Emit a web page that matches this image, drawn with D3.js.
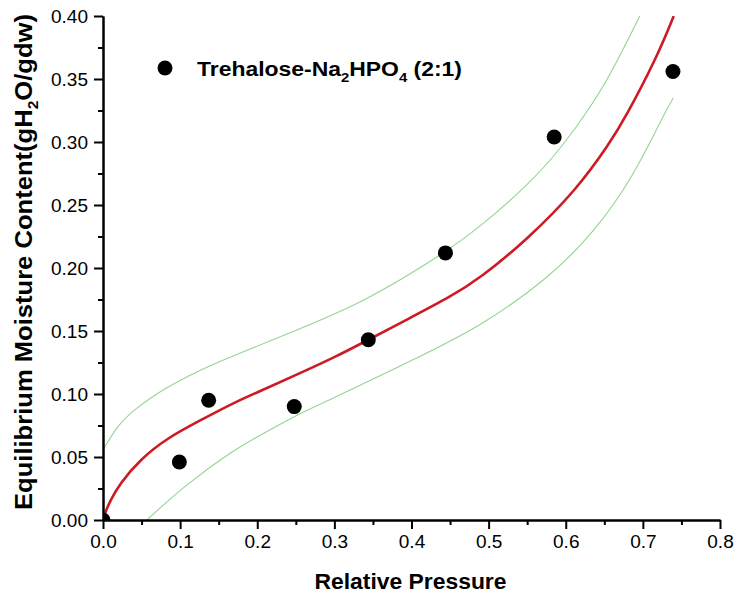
<!DOCTYPE html>
<html>
<head>
<meta charset="utf-8">
<script src="https://cdn.jsdelivr.net/npm/d3@7"></script>
<style>
    body { margin: 0; background: #fff; }
    text { font-family: Arial, "Liberation Sans", sans-serif; fill: #000; }
</style>
</head>
<body>
<svg id="chart"></svg>
<script>
// measured points
const pressure = [0, 0.099, 0.137, 0.248, 0.344, 0.444, 0.585, 0.739];
const moisture = [0, 0.046, 0.095, 0.090, 0.143, 0.212, 0.304, 0.356];

// fitted curve
const fitX = [0, 0.004, 0.01, 0.022, 0.048, 0.083, 0.126, 0.169, 0.212, 0.255, 0.30, 0.344, 0.40, 0.45, 0.489, 0.549, 0.614, 0.657, 0.677, 0.718, 0.74];
const fitY = [0, 0.008, 0.016, 0.029, 0.048, 0.065, 0.079, 0.093, 0.1045, 0.1164, 0.129, 0.143, 0.161, 0.177, 0.192, 0.222, 0.262, 0.299, 0.319, 0.367, 0.40];

// confidence band
const upperX = [0, 0.0177, 0.039, 0.083, 0.126, 0.156, 0.2295, 0.3375, 0.4456, 0.489, 0.549, 0.5926, 0.636, 0.666, 0.696];
const upperY = [0.0556, 0.074, 0.0873, 0.1058, 0.119, 0.127, 0.1455, 0.172, 0.213, 0.2328, 0.2646, 0.2937, 0.3307, 0.363, 0.40];
const lowerX = [0.057, 0.104, 0.169, 0.212, 0.255, 0.294, 0.402, 0.489, 0.575, 0.636, 0.6876, 0.7265, 0.7395];
const lowerY = [0, 0.0265, 0.0556, 0.070, 0.0847, 0.0952, 0.127, 0.1534, 0.1905, 0.2275, 0.2725, 0.321, 0.335];

const xTicks = [0, 0.1, 0.2, 0.3, 0.4, 0.5, 0.6, 0.7, 0.8];
const yTicks = [0, 0.05, 0.10, 0.15, 0.20, 0.25, 0.30, 0.35, 0.40];
const xMinor = [0.05, 0.15, 0.25, 0.35, 0.45, 0.55, 0.65, 0.75];
const yMinor = [0.025, 0.075, 0.125, 0.175, 0.225, 0.275, 0.325, 0.375];

const margin = { top: 16, right: 18, bottom: 77, left: 103 };
const W = 738, H = 597;
const width = W - margin.left - margin.right;
const height = H - margin.top - margin.bottom;

const svg = d3.select("#chart").attr("width", W).attr("height", H);

const xScale = d3.scaleLinear().domain([0, 0.8]).range([0, width]);
const yScale = d3.scaleLinear().domain([0, 0.40]).range([height, 0]);

svg.append("defs").append("clipPath").attr("id", "plot")
    .append("rect").attr("width", width).attr("height", height);

const g = svg.append("g").attr("transform", `translate(${margin.left},${margin.top})`);
const plot = g.append("g").attr("clip-path", "url(#plot)");

const zip = (xs, ys) => xs.map((x, i) => [x, ys[i]]);
const line = d3.line()
    .x(d => xScale(d[0]))
    .y(d => yScale(d[1]))
    .curve(d3.curveBasis);

plot.append("path").datum(zip(upperX, upperY))
    .attr("d", line).attr("fill", "none").attr("stroke", "#93d593").attr("stroke-width", 1.1);
plot.append("path").datum(zip(lowerX, lowerY))
    .attr("d", line).attr("fill", "none").attr("stroke", "#93d593").attr("stroke-width", 1.1);
plot.append("path").datum(zip(fitX, fitY))
    .attr("d", line).attr("fill", "none").attr("stroke", "#cc1b22").attr("stroke-width", 2.6);

plot.selectAll("circle")
    .data(zip(pressure, moisture))
    .join("circle")
    .attr("cx", d => xScale(d[0]))
    .attr("cy", d => yScale(d[1]))
    .attr("r", 7.5)
    .attr("fill", "#000");

// axes: major ticks with labels, minor ticks without
const styleAxis = sel => {
    sel.select(".domain").attr("stroke-width", 2);
    sel.selectAll(".tick line").attr("stroke-width", 2);
    sel.selectAll(".tick text").attr("font-size", 19).attr("font-family", "Arial, 'Liberation Sans', sans-serif");
};

g.append("g").attr("transform", `translate(0,${height})`)
    .call(d3.axisBottom(xScale).tickValues(xMinor).tickSize(5).tickSizeOuter(0).tickFormat(""))
    .call(styleAxis);
g.append("g").attr("transform", `translate(0,${height})`)
    .call(d3.axisBottom(xScale).tickValues(xTicks).tickSize(9).tickSizeOuter(0).tickPadding(6).tickFormat(d3.format(".1f")))
    .call(styleAxis);

g.append("g")
    .call(d3.axisLeft(yScale).tickValues(yMinor).tickSize(5).tickSizeOuter(0).tickFormat(""))
    .call(styleAxis);
g.append("g")
    .call(d3.axisLeft(yScale).tickValues(yTicks).tickSize(9).tickSizeOuter(0).tickPadding(6).tickFormat(d3.format(".2f")))
    .call(styleAxis);

// axis titles
svg.append("text")
    .attr("x", margin.left + xScale(0.4) - 1)
    .attr("y", 589)
    .attr("text-anchor", "middle")
    .attr("font-size", 22)
    .attr("font-weight", "bold")
    .attr("textLength", 192)
    .attr("lengthAdjust", "spacingAndGlyphs")
    .text("Relative Pressure");

const yTitle = svg.append("text")
    .attr("transform", "translate(32,262) rotate(-90)")
    .attr("text-anchor", "middle")
    .attr("font-size", 23)
    .attr("font-weight", "bold")
    .attr("textLength", 496)
    .attr("lengthAdjust", "spacingAndGlyphs");
yTitle.append("tspan").text("Equilibrium Moisture Content(gH");
yTitle.append("tspan").attr("font-size", 14).attr("dy", 6).text("2");
yTitle.append("tspan").attr("dy", -6).text("O/gdw)");

// legend
svg.append("circle").attr("cx", 165).attr("cy", 68).attr("r", 7.5).attr("fill", "#000");
const legend = svg.append("text")
    .attr("x", 197).attr("y", 76)
    .attr("font-size", 20)
    .attr("font-weight", "bold")
    .attr("textLength", 265)
    .attr("lengthAdjust", "spacingAndGlyphs");
legend.append("tspan").text("Trehalose-Na");
legend.append("tspan").attr("font-size", 13).attr("dy", 6).text("2");
legend.append("tspan").attr("dy", -6).text("HPO");
legend.append("tspan").attr("font-size", 13).attr("dy", 6).text("4");
legend.append("tspan").attr("dy", -6).text(" (2:1)");
</script>
</body>
</html>
